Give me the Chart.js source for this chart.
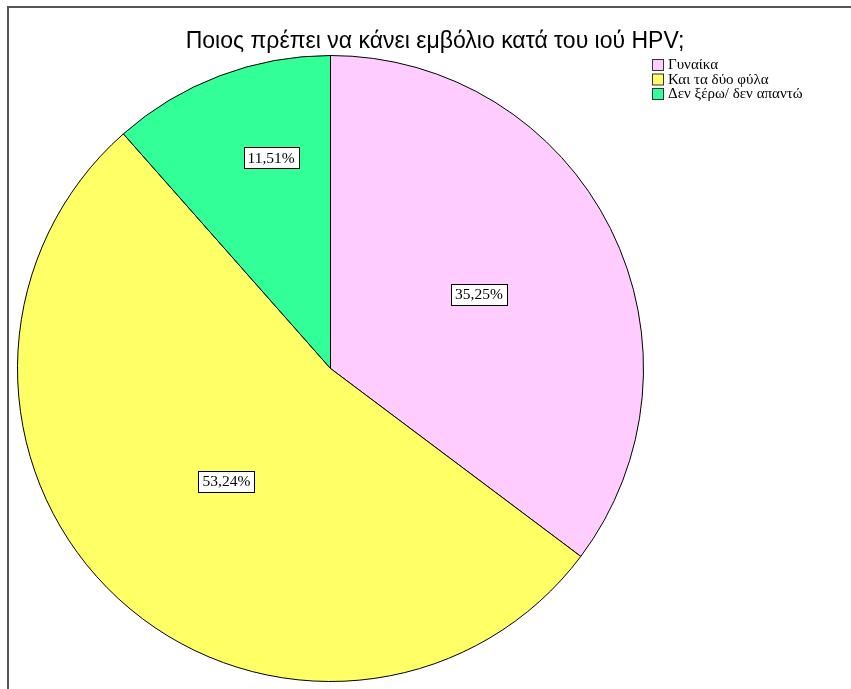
<!DOCTYPE html>
<html>
<head>
<meta charset="utf-8">
<script src="https://cdn.jsdelivr.net/npm/chart.js@4"></script>
<style>
  body { margin: 0; background: #fff; }
  #wrap { position: relative; width: 851px; height: 689px; }
</style>
</head>
<body>
<div id="wrap"><canvas id="pieChart" width="851" height="689"></canvas></div>
<script>
const title = "Ποιος πρέπει να κάνει εμβόλιο κατά του ιού HPV;";
const categories = ["Γυναίκα", "Και τα δύο φύλα", "Δεν ξέρω/ δεν απαντώ"];
const percents = [35.25, 53.24, 11.51];
const colors = ["#ffccff", "#ffff66", "#33ff99"];

// where each percent label sits: fraction of radius, and a small turn (degrees) off the bisector
const labelPos = [0.53, 0.49, 0.70];
const labelShift = [0, 0, 5];

const fmt = v => v.toFixed(2).replace(".", ",") + "%";

const decor = {
  id: "decor",
  beforeDraw(chart) {
    const c = chart.ctx;
    c.save();
    c.fillStyle = "#fff";
    c.fillRect(0, 0, chart.width, chart.height);
    // frame
    c.strokeStyle = "#555";
    c.lineWidth = 2;
    c.beginPath();
    c.moveTo(8, chart.height);
    c.lineTo(8, 7);
    c.lineTo(chart.width, 7);
    c.stroke();
    c.restore();
  },
  afterDraw(chart) {
    const c = chart.ctx;
    c.save();
    // title
    c.fillStyle = "#000";
    c.font = "23px 'Liberation Sans', Arial, sans-serif";
    c.textAlign = "center";
    c.textBaseline = "alphabetic";
    c.fillText(title, 435, 48);

    // legend
    c.font = "15px 'Liberation Serif', 'Times New Roman', serif";
    c.textAlign = "left";
    c.textBaseline = "middle";
    categories.forEach((name, i) => {
      const y = 65 + i * 14.5;
      c.fillStyle = colors[i];
      c.fillRect(652.5, y - 5.5, 11, 11);
      c.strokeStyle = "#333";
      c.lineWidth = 1;
      c.strokeRect(652.5, y - 5.5, 11, 11);
      c.fillStyle = "#000";
      c.fillText(name, 668, y + 0.5);
    });

    // percent labels
    const meta = chart.getDatasetMeta(0);
    c.font = "15.5px 'Liberation Serif', 'Times New Roman', serif";
    c.textAlign = "center";
    meta.data.forEach((arc, i) => {
      const mid = (arc.startAngle + arc.endAngle) / 2 + labelShift[i] * Math.PI / 180;
      const r = arc.outerRadius * labelPos[i];
      const x = arc.x + Math.cos(mid) * r;
      const y = arc.y + Math.sin(mid) * r;
      const txt = fmt(percents[i]);
      const w = Math.round(c.measureText(txt).width + 8);
      const h = 21;
      const bx = Math.round(x - w / 2) + 0.5;
      const by = Math.round(y - h / 2) + 0.5;
      c.fillStyle = "#fff";
      c.fillRect(bx, by, w, h);
      c.strokeStyle = "#000";
      c.lineWidth = 1;
      c.strokeRect(bx, by, w, h);
      c.fillStyle = "#000";
      c.fillText(txt, x, y + 1);
    });
    c.restore();
  }
};

new Chart(document.getElementById("pieChart"), {
  type: "pie",
  data: {
    labels: categories,
    datasets: [{
      data: percents,
      backgroundColor: colors,
      borderColor: "#000",
      borderWidth: 1
    }]
  },
  options: {
    responsive: false,
    animation: false,
    layout: { padding: { left: 17, top: 55, right: 207, bottom: 7 } },
    plugins: {
      legend: { display: false },
      title: { display: false },
      tooltip: { enabled: false }
    }
  },
  plugins: [decor]
});
</script>
</body>
</html>
